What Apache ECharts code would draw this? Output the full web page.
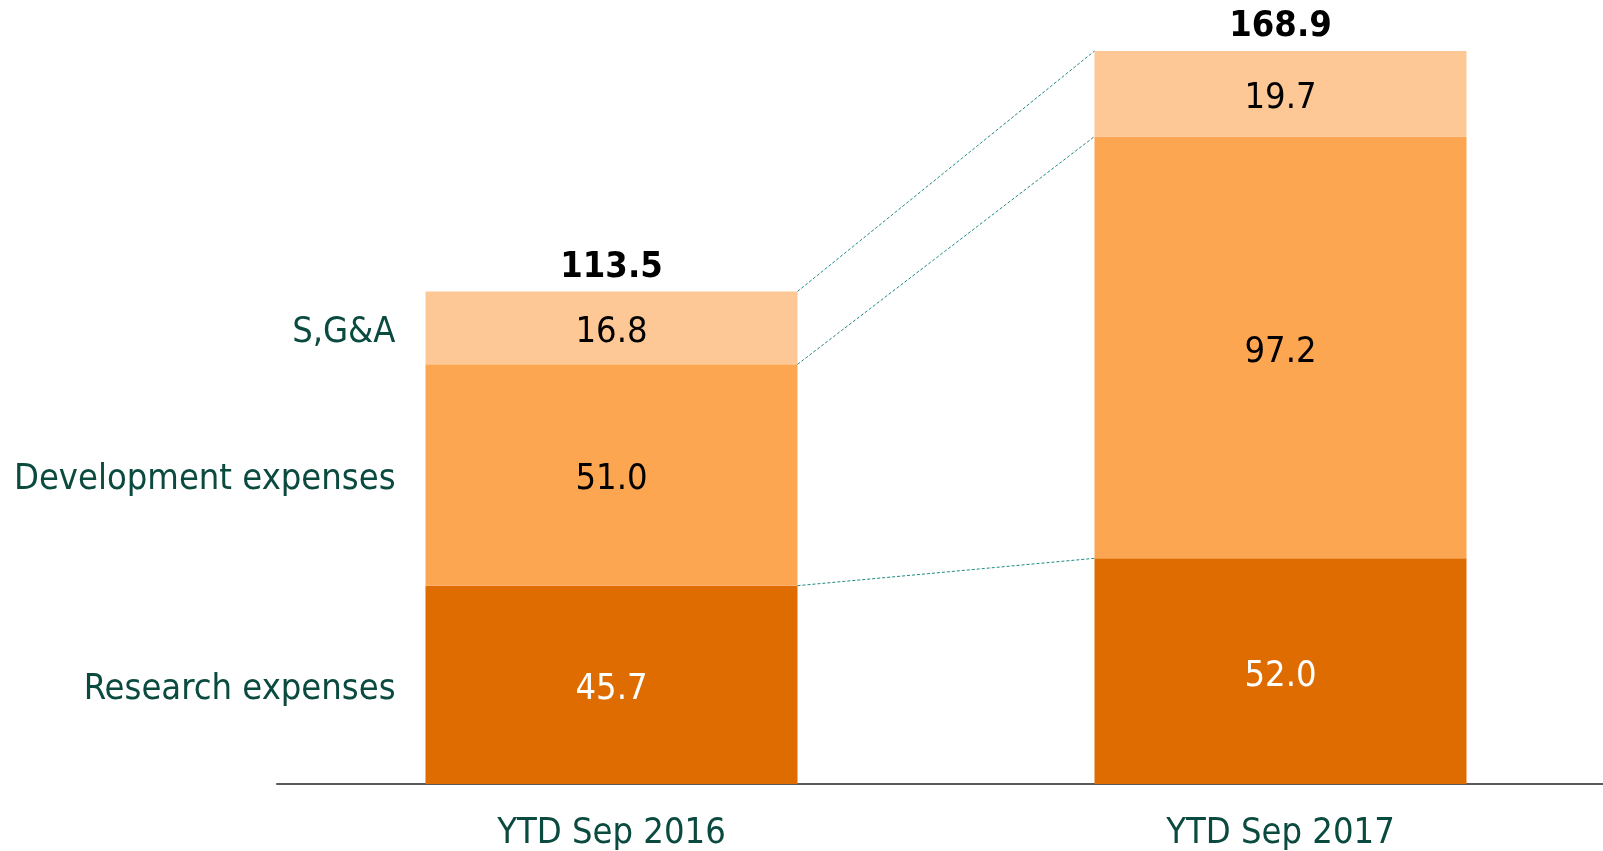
<!DOCTYPE html>
<html>
<head>
<meta charset="utf-8">
<style>
  html, body { margin: 0; padding: 0; background: #fff; }
  #chart { width: 1603px; height: 851px; }
</style>
<script src="https://cdn.jsdelivr.net/npm/echarts@6/dist/echarts.min.js"></script>
</head>
<body>
<div id="chart"></div>
<script>
// data
const periods = ['YTD Sep 2016', 'YTD Sep 2017'];
const segmentNames = ['Research expenses', 'Development expenses', 'S,G&A'];
const research = [45.7, 52.0];
const development = [51.0, 97.2];
const sga = [16.8, 19.7];
const totals = [113.5, 168.9];

const colors = ['#de6c00', '#fda652', '#fec896'];
const teal = '#0b4a3f';
const fontFamily = '"DejaVu Sans Condensed", "DejaVu Sans", sans-serif';
const fontSize = 36;
const barWidth = 372;

const segments = [research, development, sga];

// cumulative tops of each segment, per period
const cumTop = segments.map((_, s) =>
  periods.map((_, p) => segments.slice(0, s + 1).reduce((acc, arr) => acc + arr[p], 0))
);

const chart = echarts.init(document.getElementById('chart'));

const barSeries = segments.map((values, s) => ({
  name: segmentNames[s],
  type: 'bar',
  stack: 'total',
  barWidth: barWidth,
  data: values,
  itemStyle: { color: colors[s] },
  label: {
    show: true,
    position: 'inside',
    offset: [0, 5],
    fontSize: fontSize,
    fontFamily: fontFamily,
    color: s === 0 ? '#fff' : '#000',
    formatter: (p) => p.value.toFixed(1)
  },
  emphasis: { disabled: true }
}));

// dashed connector lines between segment tops
const connectorSeries = {
  type: 'custom',
  silent: true,
  z: 5,
  data: cumTop.map((tops) => [0, tops[0], tops[1]]),
  encode: { x: 0, y: 1 },
  renderItem: (params, api) => {
    const a = api.coord([0, api.value(1)]);
    const b = api.coord([1, api.value(2)]);
    return {
      type: 'line',
      shape: { x1: a[0] + barWidth / 2, y1: a[1], x2: b[0] - barWidth / 2, y2: b[1] },
      style: { stroke: '#1f8a84', lineWidth: 1, lineDash: [3, 2] }
    };
  }
};

// segment names on the left of the first bar
const nameSeries = {
  type: 'custom',
  silent: true,
  data: cumTop.map((tops, s) => [0, tops[0] - segments[s][0] / 2]),
  encode: { x: 0, y: 1 },
  renderItem: (params, api) => {
    const pt = api.coord([0, api.value(1)]);
    return {
      type: 'text',
      x: pt[0] - barWidth / 2 - 30,
      y: pt[1] + 5,
      style: {
        text: segmentNames[params.dataIndex],
        fill: teal,
        font: fontSize + 'px ' + fontFamily,
        align: 'right',
        verticalAlign: 'middle'
      }
    };
  }
};

// bold totals above bars
const totalSeries = {
  type: 'custom',
  silent: true,
  data: totals.map((t, i) => [i, t]),
  encode: { x: 0, y: 1 },
  renderItem: (params, api) => {
    const pt = api.coord([api.value(0), api.value(1)]);
    return {
      type: 'text',
      x: pt[0],
      y: pt[1] - 24,
      style: {
        text: api.value(1).toFixed(1),
        fill: '#000',
        font: 'bold ' + fontSize + 'px ' + fontFamily,
        align: 'center',
        verticalAlign: 'middle'
      }
    };
  }
};

chart.setOption({
  animation: false,
  backgroundColor: '#fff',
  grid: { left: 277, top: 51, width: 1338, bottom: 67, outerBoundsMode: 'none' },
  xAxis: {
    type: 'category',
    data: periods,
    axisLine: { lineStyle: { color: '#595959', width: 2 } },
    axisTick: { show: false },
    axisLabel: { color: teal, fontSize: fontSize, fontFamily: fontFamily, margin: 32 }
  },
  yAxis: {
    type: 'value',
    min: 0,
    max: 168.9,
    show: false,
    splitLine: { show: false }
  },
  series: [...barSeries, connectorSeries, nameSeries, totalSeries]
});
</script>
</body>
</html>
